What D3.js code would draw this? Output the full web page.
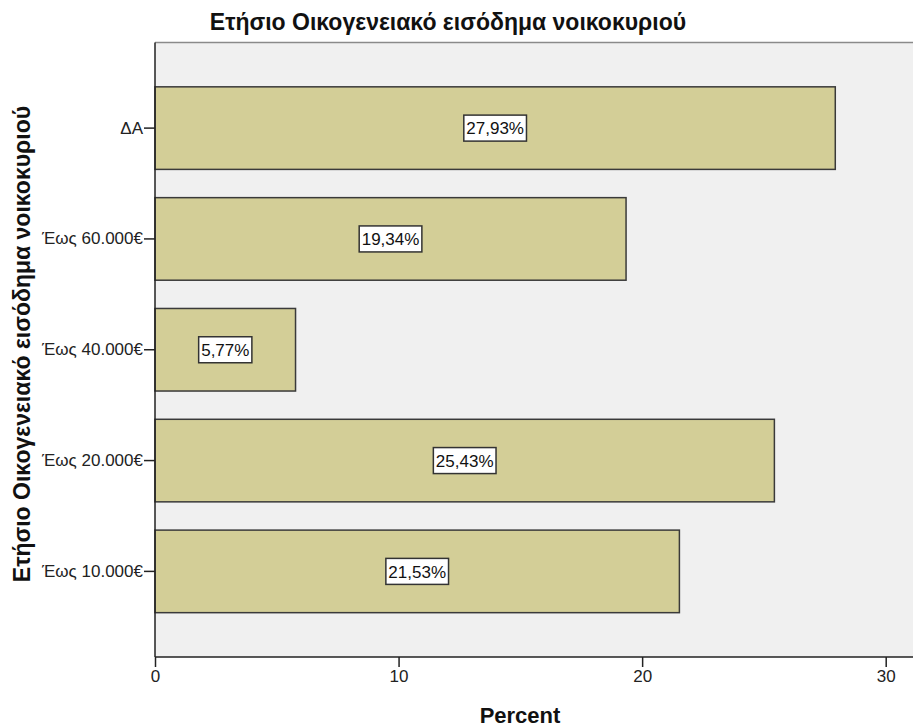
<!DOCTYPE html>
<html>
<head>
<meta charset="utf-8">
<script src="https://cdn.jsdelivr.net/npm/d3@7"></script>
<style>
  html, body { margin: 0; padding: 0; background: #fff; }
  svg { display: block; font-family: "Liberation Sans", Arial, sans-serif; }
</style>
</head>
<body>
<svg id="chart" width="913" height="728"></svg>
<script>
// Income brackets, top to bottom, and their share of households (%)
const categories = ["ΔΑ", "Έως 60.000€", "Έως 40.000€", "Έως 20.000€", "Έως 10.000€"];
const percents = [27.93, 19.34, 5.77, 25.43, 21.53];
const xTicks = [0, 10, 20, 30];

const title = "Ετήσιο Οικογενειακό εισόδημα νοικοκυριού";
const yTitle = "Ετήσιο Οικογενειακό εισόδημα νοικοκυριού";
const xTitle = "Percent";

const plot = { left: 155, top: 42.5, right: 913, bottom: 657 };

const svg = d3.select("#chart");

const x = d3.scaleLinear().domain([0, 30]).range([plot.left, 885.7]);
const y = d3.scaleBand()
  .domain(categories)
  .range([plot.top, plot.bottom])
  .paddingInner(0.255)
  .paddingOuter(0.4);

// plot background
svg.append("rect")
  .attr("x", plot.left).attr("y", plot.top)
  .attr("width", plot.right - plot.left).attr("height", plot.bottom - plot.top)
  .attr("fill", "#f0f0f0");

// frame line along the top
svg.append("line")
  .attr("x1", plot.left).attr("x2", plot.right)
  .attr("y1", plot.top).attr("y2", plot.top)
  .attr("stroke", "#8a8a8a").attr("stroke-width", 1.5);

const rows = categories.map((c, i) => ({ cat: c, val: percents[i] }));

// bars
svg.append("g").selectAll("rect")
  .data(rows)
  .join("rect")
  .attr("x", x(0))
  .attr("y", d => y(d.cat))
  .attr("width", d => x(d.val) - x(0))
  .attr("height", y.bandwidth())
  .attr("fill", "#d3ce97")
  .attr("stroke", "#3a3a3a")
  .attr("stroke-width", 1.5);

// value labels in white boxes
const fmt = v => v.toFixed(2).replace(".", ",") + "%";
const labels = svg.append("g").selectAll("g")
  .data(rows)
  .join("g")
  .attr("transform", d => `translate(${(x(0) + x(d.val)) / 2},${y(d.cat) + y.bandwidth() / 2})`);

labels.append("text")
  .attr("text-anchor", "middle")
  .attr("dy", "0.36em")
  .attr("font-size", 17)
  .attr("fill", "#111")
  .text(d => fmt(d.val));

labels.each(function () {
  const g = d3.select(this);
  const bb = g.select("text").node().getBBox();
  g.insert("rect", "text")
    .attr("x", bb.x - 2.5).attr("y", -13)
    .attr("width", bb.width + 5).attr("height", 26)
    .attr("fill", "#fff")
    .attr("stroke", "#333").attr("stroke-width", 1.5);
});

// x axis
const xAxis = svg.append("g")
  .attr("transform", `translate(0,${plot.bottom})`)
  .call(d3.axisBottom(x).tickValues(xTicks).tickSize(10).tickPadding(3).tickSizeOuter(0));
xAxis.select(".domain").remove();
xAxis.append("line")
  .attr("x1", plot.left).attr("x2", plot.right)
  .attr("stroke", "#222").attr("stroke-width", 1.5);
xAxis.selectAll(".tick line").attr("stroke", "#222").attr("stroke-width", 1.5);
xAxis.selectAll(".tick text")
  .attr("font-family", "Liberation Sans, Arial, sans-serif")
  .attr("font-size", 17).attr("fill", "#222");

// y axis
const yAxis = svg.append("g")
  .attr("transform", `translate(${plot.left},0)`)
  .call(d3.axisLeft(y).tickSize(11).tickPadding(1).tickSizeOuter(0));
yAxis.select(".domain").remove();
yAxis.append("line")
  .attr("y1", plot.top).attr("y2", plot.bottom)
  .attr("stroke", "#222").attr("stroke-width", 1.5);
yAxis.selectAll(".tick line").attr("stroke", "#222").attr("stroke-width", 1.5);
yAxis.selectAll(".tick text")
  .attr("font-family", "Liberation Sans, Arial, sans-serif")
  .attr("font-size", 17).attr("fill", "#222");

// titles
svg.append("text")
  .attr("x", 448).attr("y", 30)
  .attr("text-anchor", "middle")
  .attr("font-size", 23).attr("font-weight", "bold")
  .attr("fill", "#111")
  .text(title);

svg.append("text")
  .attr("x", 520).attr("y", 723)
  .attr("text-anchor", "middle")
  .attr("font-size", 22).attr("font-weight", "bold")
  .attr("fill", "#111")
  .text(xTitle);

svg.append("text")
  .attr("transform", `translate(30,344) rotate(-90)`)
  .attr("text-anchor", "middle")
  .attr("font-size", 23).attr("font-weight", "bold")
  .attr("fill", "#111")
  .text(yTitle);
</script>
</body>
</html>
